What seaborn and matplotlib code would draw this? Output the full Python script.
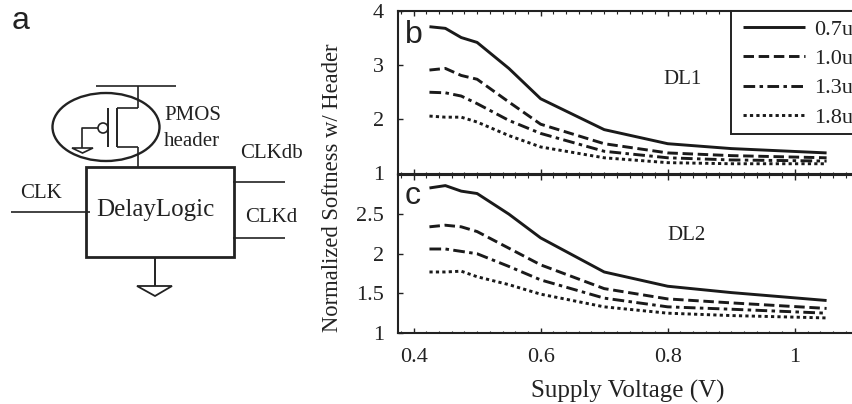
import matplotlib
matplotlib.use('Agg')
import matplotlib.pyplot as plt
from matplotlib.patches import Circle, Ellipse, Polygon, Rectangle
import pandas as pd
import seaborn as sns

sns.set_style("ticks")
plt.rcParams['font.family'] = ['Liberation Serif', 'DejaVu Serif']

# values
voltage = [0.425, 0.45, 0.475, 0.5, 0.55, 0.6, 0.7, 0.8, 0.9, 1.05]
widths = ['0.7u', '1.0u', '1.3u', '1.8u']

dl1_07 = [3.71, 3.68, 3.51, 3.42, 2.94, 2.38, 1.81, 1.55, 1.46, 1.38]
dl1_10 = [2.91, 2.94, 2.81, 2.74, 2.32, 1.91, 1.55, 1.38, 1.33, 1.29]
dl1_13 = [2.50, 2.49, 2.43, 2.29, 1.98, 1.74, 1.41, 1.29, 1.25, 1.23]
dl1_18 = [2.06, 2.04, 2.04, 1.95, 1.70, 1.49, 1.29, 1.20, 1.18, 1.18]

dl2_07 = [2.83, 2.86, 2.79, 2.76, 2.50, 2.20, 1.77, 1.59, 1.51, 1.41]
dl2_10 = [2.34, 2.36, 2.34, 2.28, 2.07, 1.86, 1.56, 1.43, 1.38, 1.31]
dl2_13 = [2.06, 2.06, 2.03, 2.00, 1.84, 1.67, 1.44, 1.33, 1.30, 1.25]
dl2_18 = [1.77, 1.77, 1.78, 1.71, 1.61, 1.49, 1.33, 1.25, 1.22, 1.19]

estilos = {'0.7u': (1, 0), '1.0u': (3.6, 1.6), '1.3u': (4, 1.5, 1.2, 1.5), '1.8u': (1.1, 1.1)}
W, H = 852, 404
INK = '#222222'


def tabla(series):
    filas = []
    for w, valores in zip(widths, series):
        filas.append(pd.DataFrame({'v': voltage, 'soft': valores, 'w': w}))
    return pd.concat(filas, ignore_index=True)


def panel(rect, series, ylim, yticks, ylabels):
    ax = fig.add_axes([rect[0] / W, 1 - rect[3] / H, (rect[2] - rect[0]) / W, (rect[3] - rect[1]) / H])
    sns.lineplot(data=tabla(series), x='v', y='soft', style='w', dashes=estilos, color='#1a1a1a',
                 linewidth=2.1, errorbar=None, ax=ax, legend=True)
    ax.set_xlim(0.3755, 1.09)
    ax.set_ylim(*ylim)
    ax.set_xlabel('')
    ax.set_ylabel('')
    ax.set_xticks([0.4, 0.6, 0.8, 1.0], ['0.4', '0.6', '0.8', '1'])
    ax.set_xticks([0.38 + 0.02 * i for i in range(36)], minor=True)
    ax.set_yticks(yticks, ylabels)
    ax.tick_params(which='major', direction='in', length=3.5, width=1, top=True, right=False,
                   labelsize=16, colors=INK)
    ax.tick_params(which='minor', direction='in', length=1.8, width=0.8, top=True, color=INK)
    ax.tick_params(axis='y', pad=10)
    ax.tick_params(axis='x', pad=11)
    for s in ['top', 'bottom', 'left']:
        ax.spines[s].set_linewidth(1.5)
        ax.spines[s].set_color(INK)
    ax.spines['right'].set_visible(False)
    return ax


fig = plt.figure(figsize=(W / 100, H / 100), dpi=100)

ax_b = panel((398, 11, 852, 173.5), [dl1_07, dl1_10, dl1_13, dl1_18], (1, 4), [1, 2, 3, 4], ['1', '2', '3', '4'])
ax_c = panel((398, 174.5, 852, 333), [dl2_07, dl2_10, dl2_13, dl2_18], (1, 3), [1, 1.5, 2, 2.5], ['1', '1.5', '2', '2.5'])
ax_b.tick_params(axis='x', labelbottom=False)
ax_c.get_legend().remove()

# capa en pixeles para el esquema y los textos sueltos
over = fig.add_axes([0, 0, 1, 1], zorder=10)
over.set_xlim(0, W)
over.set_ylim(H, 0)
over.axis('off')

# caja de la leyenda, se sale por la derecha como en la figura
ax_b.add_patch(Rectangle((731, 11), 140, 123, transform=over.transData, fc='white', ec=INK, lw=1.4,
                         zorder=4, clip_on=False))
handles, labels = ax_b.get_legend_handles_labels()
leg = ax_b.legend(handles, labels, loc='upper left', bbox_to_anchor=((734.6 - 398) / 454, 1.0), borderaxespad=0,
                  fontsize=16, frameon=False, handlelength=2.8, labelspacing=0.39, borderpad=0.38,
                  handletextpad=0.41, labelcolor=INK)
leg.set_zorder(5)

trazos = [
    ([96, 176], [85.5, 85.5], 1.2), ([137.5, 137.5], [85.5, 108], 1.2), ([117, 137.5], [108, 108], 1.2),
    ([117, 117], [108, 147], 1.4), ([108, 108], [108, 147], 1.4), ([117, 138], [147, 147], 1.2),
    ([138, 138], [147, 167], 1.2), ([98, 82, 82], [128, 128, 148], 1.2),
    ([11, 90], [211.5, 211.5], 1.2), ([233, 285], [181.5, 181.5], 1.2), ([233, 285], [238, 238], 1.2),
    ([155, 155], [257, 286], 1.4),
]
for xs, ys, lw in trazos:
    over.plot(xs, ys, color=INK, lw=lw, solid_capstyle='butt')

over.add_patch(Rectangle((86, 166.5), 147.5, 90.5, fill=False, ec=INK, lw=2))
over.add_patch(Ellipse((106, 127), 107, 68, fill=False, ec=INK, lw=1.7))
over.add_patch(Circle((103, 128), 5, fc='white', ec=INK, lw=1.2))
over.add_patch(Polygon([(72, 148), (93, 148), (82.5, 153)], fill=False, ec=INK, lw=1.2))
over.add_patch(Polygon([(137, 286), (172, 286), (155, 296)], fill=False, ec=INK, lw=1.3))

for x, y, t, size in [(164, 115, 'PMOS', 15), (164, 142, 'header', 15), (240, 153, 'CLKdb', 15),
                      (245, 217, 'CLKd', 15), (20, 193, 'CLK', 15), (96, 210, 'DelayLogic', 18)]:
    over.text(x, y, t, fontsize=size, color=INK, ha='left', va='center')

over.text(683, 79, 'DL1', fontsize=15, color=INK, ha='center', va='center')
over.text(687, 235, 'DL2', fontsize=15, color=INK, ha='center', va='center')
over.text(628, 391, 'Supply Voltage (V)', fontsize=18, color=INK, ha='center', va='center')
over.text(333, 188, 'Normalized Softness w/ Header', fontsize=16.3, color=INK, rotation=90, ha='center', va='center')

for x, y, t, size in [(12, 21, 'a', 23), (405, 35, 'b', 23), (405, 196, 'c', 23)]:
    over.text(x, y, t, fontsize=size, color=INK, family='Liberation Sans', ha='left', va='center')

fig.savefig('out.png', dpi=100)
